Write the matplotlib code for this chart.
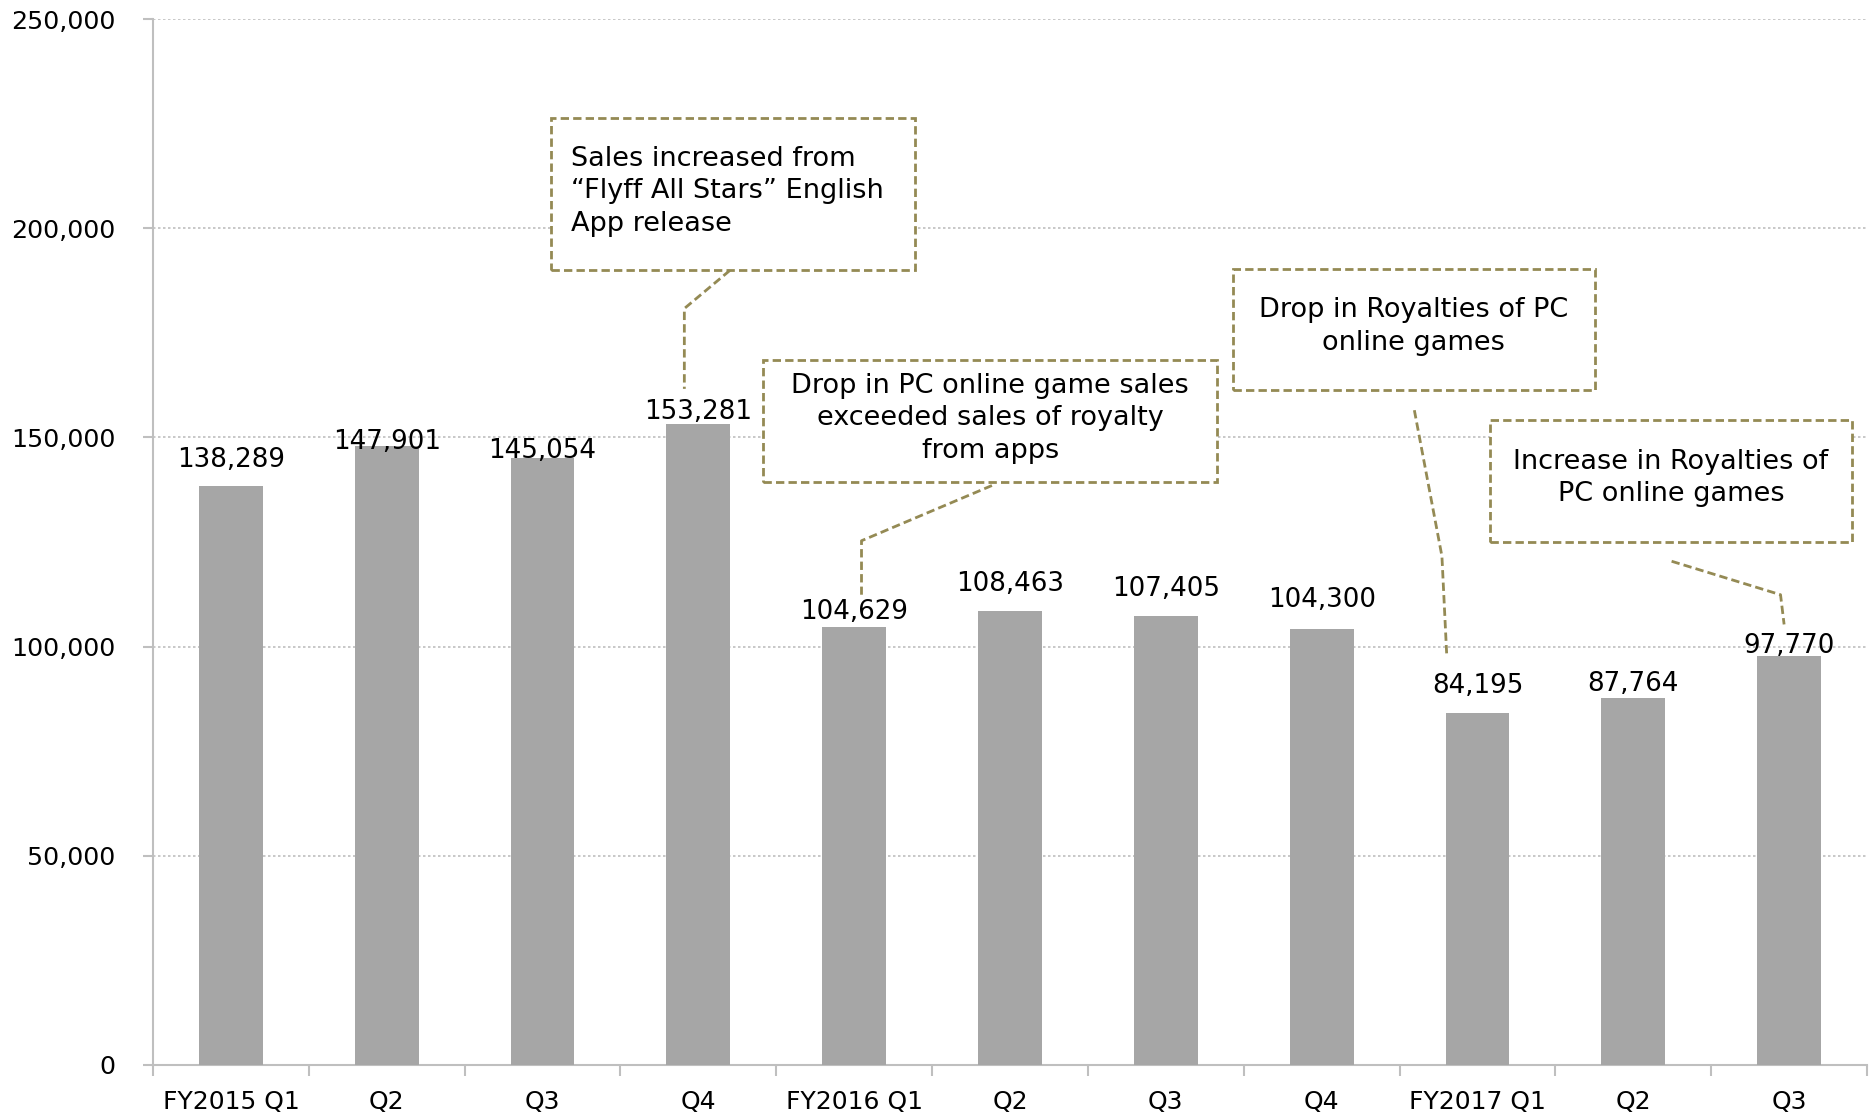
import matplotlib
matplotlib.use("Agg")
import matplotlib.pyplot as plt
from matplotlib.patches import Rectangle
from matplotlib.ticker import FuncFormatter, MultipleLocator, FixedLocator

quarters = ["FY2015 Q1", "Q2", "Q3", "Q4", "FY2016 Q1", "Q2", "Q3", "Q4",
            "FY2017 Q1", "Q2", "Q3"]
sales = [138289, 147901, 145054, 153281, 104629, 108463, 107405, 104300,
         84195, 87764, 97770]

notes = [
    "Sales increased from\n\u201cFlyff All Stars\u201d English\nApp release",
    "Drop in PC online game sales\nexceeded sales of royalty\nfrom apps",
    "Drop in Royalties of PC\nonline games",
    "Increase in Royalties of\nPC online games",
]

olive = "#948A54"
axis_grey = "#BFBFBF"

plt.rcParams["font.family"] = "DejaVu Sans"

fig = plt.figure(figsize=(18.76, 11.16), dpi=100)
ax = fig.add_axes([153 / 1876, 1 - 1065 / 1116, (1867 - 153) / 1876, (1065 - 19) / 1116])

x = list(range(len(quarters)))
bars = ax.bar(x, sales, width=0.41, color="#A6A6A6", zorder=3)

# label gaps vary like in the original (points above bar top)
label_offsets = [9.5, -6, -4.5, -1, 1.5, 10, 10, 11, 10, 0.5, -2]
for xi, v, off in zip(x, sales, label_offsets):
    ax.annotate(f"{v:,}", (xi, v), xytext=(0, off), textcoords="offset points",
                ha="center", va="bottom", fontsize=18.8, zorder=5)

ax.set_xlim(-0.5, len(quarters) - 0.5)
ax.set_ylim(0, 250000)
ax.yaxis.set_major_locator(MultipleLocator(50000))
ax.yaxis.set_major_formatter(FuncFormatter(lambda v, p: f"{int(v):,}"))
ax.grid(axis="y", linestyle=(0, (1.5, 1.5)), color=axis_grey, linewidth=1.2, zorder=0)

ax.set_xticks(x)
ax.set_xticklabels(quarters)
ax.xaxis.set_minor_locator(FixedLocator([i - 0.5 for i in range(len(quarters) + 1)]))
ax.tick_params(axis="x", which="major", length=0, pad=18, labelsize=18)
ax.tick_params(axis="x", which="minor", length=8, width=1.5, color=axis_grey)
ax.tick_params(axis="y", length=7, width=1.5, color=axis_grey, pad=20, labelsize=18.3)

for side in ["top", "right"]:
    ax.spines[side].set_visible(False)
for side in ["left", "bottom"]:
    ax.spines[side].set_color(axis_grey)
    ax.spines[side].set_linewidth(1.5)

# callout boxes (x0, y0, x1, y1) in data units
boxes = [
    (2.057, 189900, 4.392, 226300),
    (3.417, 139300, 6.328, 168500),
    (6.428, 161300, 8.755, 190200),
    (8.079, 125000, 10.406, 154200),
]
leaders = [
    [(3.202, 189900), (2.910, 180800), (2.910, 161600)],
    [(4.884, 138500), (4.047, 125300), (4.047, 112400)],
    [(7.595, 156500), (7.772, 121600), (7.803, 97800)],
    [(9.246, 120400), (9.945, 112400), (9.968, 105300)],
]

for i, ((x0, y0, x1, y1), txt) in enumerate(zip(boxes, notes)):
    ax.add_patch(Rectangle((x0, y0), x1 - x0, y1 - y0, fill=True, facecolor="white",
                           edgecolor=olive, linestyle=(0, (3, 1.5)), linewidth=2, zorder=4))
    if i == 0:
        ax.text(x0 + 0.125, (y0 + y1) / 2 + 700, txt, ha="left", va="center",
                fontsize=19.5, linespacing=1.33, zorder=5)
    else:
        ax.text((x0 + x1) / 2, (y0 + y1) / 2 + 700, txt, ha="center", va="center",
                fontsize=19.5, linespacing=1.33, zorder=5)

for pts in leaders:
    xs = [p[0] for p in pts]
    ys = [p[1] for p in pts]
    ax.plot(xs, ys, color=olive, linestyle=(0, (3, 1.5)), linewidth=2, zorder=4)

fig.savefig("out.png", dpi=100)
